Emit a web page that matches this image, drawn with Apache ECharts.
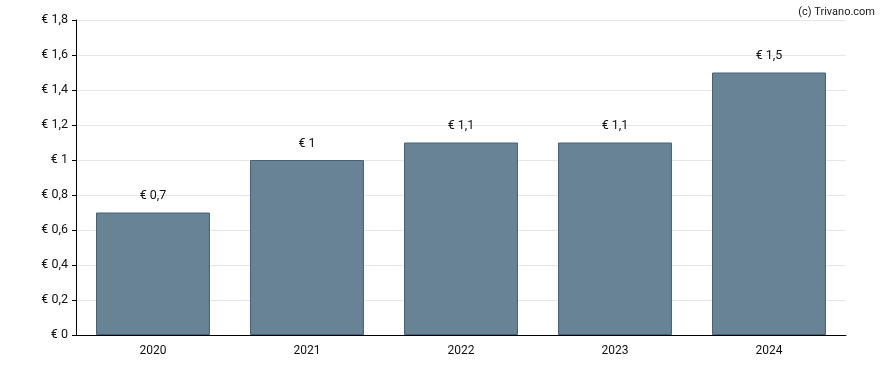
<!DOCTYPE html>
<html><head><meta charset="utf-8">
<script src="https://cdn.jsdelivr.net/npm/echarts@6/dist/echarts.min.js"></script>
<style>html,body{margin:0;padding:0;background:#fff}#c{width:888px;height:370px}</style>
</head><body><div id="c"></div>
<script>
const categories = ['2020', '2021', '2022', '2023', '2024'];
const values = [0.7, 1.0, 1.1, 1.1, 1.5];
const yTicks = [0, 0.2, 0.4, 0.6, 0.8, 1.0, 1.2, 1.4, 1.6, 1.8];

const fmt = v => '€ ' + String(Math.round(v * 10) / 10).replace('.', ',');
const chart = echarts.init(document.getElementById('c'));
chart.setOption({
  animation: false,
  textStyle: { fontFamily: 'Roboto' },
  title: {
    text: '(c) Trivano.com', right: 8, top: 2,
    textStyle: { fontSize: 11, fontWeight: 'normal', color: '#222', fontFamily: 'Roboto' }
  },
  grid: { left: 76, right: 42, top: 20, bottom: 35 },
  xAxis: {
    type: 'category', data: categories,
    axisLine: { lineStyle: { color: '#000', width: 1 } },
    axisTick: { alignWithLabel: true, length: 4, lineStyle: { color: '#000' } },
    axisLabel: { color: '#111', fontSize: 12, margin: 10 }
  },
  yAxis: {
    type: 'value', min: yTicks[0], max: yTicks[yTicks.length - 1], interval: 0.2,
    axisLine: { show: true, lineStyle: { color: '#000', width: 1 } },
    axisTick: { show: true, length: 4, lineStyle: { color: '#000' } },
    axisLabel: { color: '#111', fontSize: 12.5, margin: 8, formatter: fmt },
    splitLine: { lineStyle: { color: '#e6e6e6' } }
  },
  series: [{
    type: 'bar', data: values, barWidth: '74%',
    itemStyle: { color: '#678394', borderColor: '#46627a', borderWidth: 1 },
    label: { show: true, position: 'top', distance: 10, color: '#111', fontSize: 12.5, formatter: p => fmt(p.value) }
  }]
});
</script></body></html>
